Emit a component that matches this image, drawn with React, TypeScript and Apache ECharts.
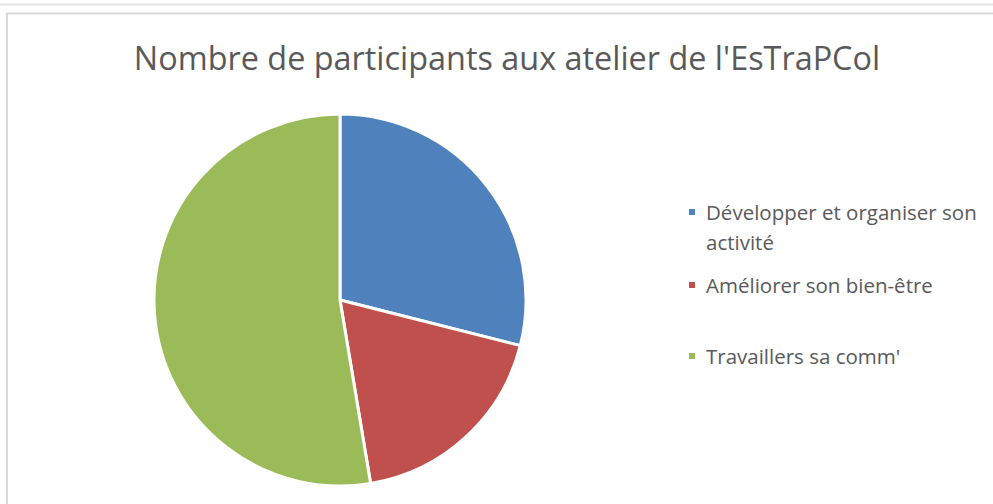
import React, { useEffect, useRef } from "react";
import * as echarts from "echarts";

const titleText = "Nombre de participants aux atelier de l'EsTraPCol";
const categories = [
  "Développer et organiser son activité",
  "Améliorer son bien-être",
  "Travaillers sa comm'",
];
const values = [11, 7, 20];
const colors = ["#4f81bd", "#c0504d", "#9bbb59"];

export default function App() {
  const ref = useRef<HTMLDivElement>(null);
  useEffect(() => {
    document.body.style.margin = "0";
    const chart = echarts.init(ref.current!, undefined, { renderer: "svg" });
    const font = "'Open Sans', sans-serif";
    const legendTops = [162, 265, 336];
    chart.setOption({
      animation: false,
      backgroundColor: "#ffffff",
      title: {
        text: titleText,
        left: 502,
        top: 36,
        textAlign: "center",
        textStyle: {
          fontFamily: font,
          fontSize: 32.4,
          fontWeight: "normal",
          color: "#595959",
        },
      },
      legend: categories.map((name, i) => ({
        data: [name],
        orient: "vertical",
        left: 682,
        top: legendTops[i],
        itemWidth: 8,
        itemHeight: 8,
        icon: "rect",
        itemGap: 0,
        selectedMode: false,
        formatter: (n: string) =>
          n === categories[0]
            ? "{t|}\n{t|Développer et organiser son}\n{t|activité}"
            : "{t|" + n + "}",
        textStyle: {
          fontFamily: font,
          fontSize: 20.5,
          color: "#595959",
          lineHeight: 30,
          rich: {
            t: {
              fontFamily: font,
              fontSize: 20.5,
              color: "#595959",
              lineHeight: 30,
              padding: [0, 0, 0, 5],
            },
          },
        },
      })),
      graphic: [
        {
          type: "line",
          shape: { x1: 0, y1: 4.5, x2: 993, y2: 4.5 },
          style: { stroke: "#e3e3e3", lineWidth: 2 },
          silent: true,
        },
        {
          type: "rect",
          shape: { x: 7, y: 13.5, width: 1000, height: 520 },
          style: { stroke: "#d9d9d9", lineWidth: 2, fill: "none" },
          silent: true,
        },
      ],
      series: [
        {
          type: "pie",
          center: [340, 300],
          radius: 186,
          startAngle: 90,
          clockwise: true,
          label: { show: false },
          labelLine: { show: false },
          emphasis: { disabled: true },
          itemStyle: { borderColor: "#ffffff", borderWidth: 3 },
          data: categories.map((name, i) => ({
            name,
            value: values[i],
            itemStyle: { color: colors[i] },
          })),
        },
      ],
    });
    return () => chart.dispose();
  }, []);
  return <div ref={ref} style={{ width: 993, height: 504 }} />;
}
